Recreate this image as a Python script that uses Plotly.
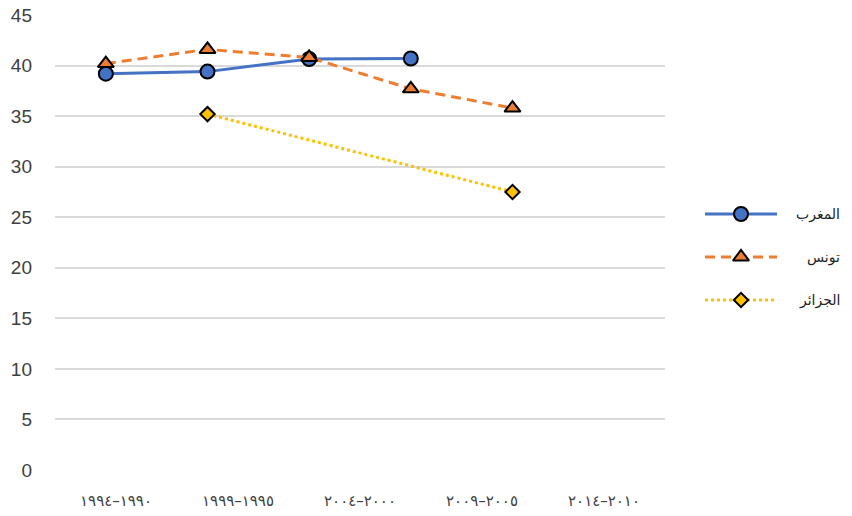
import plotly.graph_objects as go

# Period labels (Arabic-Indic digits, written in logical order)
periods = ["١٩٩٠–١٩٩٤", "١٩٩٥–١٩٩٩", "٢٠٠٠–٢٠٠٤", "٢٠٠٥–٢٠٠٩", "٢٠١٠–٢٠١٤"]

# Series values per period (None = no data)
morocco = [39.2, 39.4, 40.65, 40.7, None]
tunisia = [40.2, 41.6, 40.8, 37.7, 35.8]
algeria = [None, 35.2, None, None, 27.5]

names = ["المغرب", "تونس", "الجزائر"]
colors = ["#4472C4", "#ED7D31", "#FFC000"]
dashes = ["solid", "10px,6px", "dot"]
symbols = ["circle", "triangle-up", "diamond"]
sizes = [14, 14, 11]

W, H = 852, 516
L, R, T, B = 55, 665, 15, 470  # plot area edges in pixels
RM = 5

n = len(periods)
slots = n + 1  # the value axis spans one more slot than there are periods
xs = list(range(n))
tick_pos = [(i + 0.5) * slots / n - 0.5 for i in range(n)]

fig = go.Figure()

for name, vals, c, d, s, sz in zip(names, [morocco, tunisia, algeria], colors, dashes, symbols, sizes):
    fig.add_trace(go.Scatter(
        x=xs, y=vals, name=name, mode="lines+markers", connectgaps=True,
        line=dict(color=c, width=3, dash=d),
        marker=dict(symbol=s, size=sz, color=c, line=dict(color="black", width=2)),
        showlegend=False,
    ))

# Hand-laid legend on its own axes to the right of the plot
pw = W - L - RM
ph = B - T
leg_rows = [214, 257, 300]
for name, c, d, s, sz, row in zip(names, colors, dashes, symbols, sizes, leg_rows):
    yv = (B - row) / ph
    fig.add_trace(go.Scatter(
        x=[0, 1], y=[yv, yv], mode="lines",
        xaxis="x2", yaxis="y2", showlegend=False, hoverinfo="skip",
        line=dict(color=c, width=3, dash=d),
    ))
    fig.add_trace(go.Scatter(
        x=[0.5], y=[yv], mode="markers",
        xaxis="x2", yaxis="y2", showlegend=False, hoverinfo="skip",
        marker=dict(symbol=s, size=sz, color=c, line=dict(color="black", width=2)),
    ))
    fig.add_annotation(
        x=(842 - L) / pw, y=yv, xref="paper", yref="paper", text=name, showarrow=False,
        xanchor="right", yanchor="middle",
        font=dict(family="DejaVu Sans", size=14, color="#222222"),
    )

fig.update_layout(
    width=W, height=H,
    margin=dict(l=L, r=RM, t=T, b=H - B),
    paper_bgcolor="white", plot_bgcolor="white",
    showlegend=False,
    font=dict(family="Carlito, Liberation Sans, sans-serif"),
    xaxis=dict(
        domain=[0, (R - L) / pw],
        range=[-0.5, slots - 0.5],
        tickmode="array", tickvals=tick_pos, ticktext=periods,
        showgrid=False, zeroline=False, showline=False, automargin=False,
        ticks="", ticklabelstandoff=20,
        tickfont=dict(family="DejaVu Sans", size=15, color="#404040"),
    ),
    yaxis=dict(
        range=[0, 45], dtick=5, tick0=0,
        showgrid=True, gridcolor="#d9d9d9", gridwidth=2,
        zeroline=False, showline=False, ticks="", automargin=False,
        ticklabelstandoff=22,
        tickfont=dict(family="Liberation Sans, sans-serif", size=19, color="#404040"),
    ),
    xaxis2=dict(domain=[(705 - L) / pw, (777 - L) / pw], range=[0, 1], visible=False,
                anchor="y2", fixedrange=True),
    yaxis2=dict(domain=[0, 1], range=[0, 1], visible=False, anchor="x2", fixedrange=True),
)

fig.write_html("out.html")
